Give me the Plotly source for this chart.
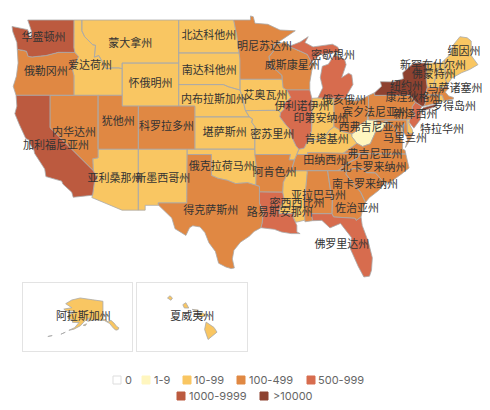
import plotly.graph_objects as go

level_labels = ["0", "1-9", "10-99", "100-499", "500-999", "1000-9999", ">10000"]
level_colors = ["#ffffff", "#fff6bf", "#f9c662", "#e08843", "#d76c4e", "#bc5a3f", "#8e4230"]

state_codes = ["WA", "OR", "CA", "NV", "ID", "MT", "WY", "UT", "AZ", "CO", "NM", "ND", "SD", "NE", "KS", "OK", "TX",
               "MN", "IA", "MO", "AR", "LA", "WI", "IL", "MI", "IN", "OH", "KY", "TN", "MS", "AL", "GA", "FL", "SC",
               "NC", "VA", "WV", "PA", "NY", "NJ", "DE", "MD", "CT", "RI", "MA", "VT", "NH", "ME", "AK", "HI"]
state_labels = ["华盛顿州", "俄勒冈州", "加利福尼亚州", "内华达州", "爱达荷州", "蒙大拿州", "怀俄明州", "犹他州", "亚利桑那州",
                "科罗拉多州", "新墨西哥州", "北达科他州", "南达科他州", "内布拉斯加州", "堪萨斯州", "俄克拉荷马州", "得克萨斯州",
                "明尼苏达州", "艾奥瓦州", "密苏里州", "阿肯色州", "路易斯安那州", "威斯康星州", "伊利诺伊州", "密歇根州", "印第安纳州",
                "俄亥俄州", "肯塔基州", "田纳西州", "密西西比州", "亚拉巴马州", "佐治亚州", "佛罗里达州", "南卡罗来纳州",
                "北卡罗来纳州", "弗吉尼亚州", "西弗吉尼亚州", "宾夕法尼亚州", "纽约州", "新泽西州", "特拉华州", "马里兰州",
                "康涅狄格州", "罗得岛州", "马萨诸塞州", "佛蒙特州", "新罕布什尔州", "缅因州", "阿拉斯加州", "夏威夷州"]
state_levels = [5, 3, 5, 3, 2, 2, 2, 3, 2, 3, 2, 2, 2, 2, 2, 2, 3,
                3, 2, 2, 3, 4, 3, 4, 4, 2, 3, 2, 3, 2, 3, 3, 4, 3,
                3, 3, 1, 3, 6, 4, 2, 3, 3, 2, 3, 2, 2, 2, 2, 2]

# state outlines, lon/lat, one list per landmass
state_outlines = {
    "WA": [[(-124.7,48.4),(-123.2,48.15),(-122.75,48.1),(-122.5,47.3),(-122.3,47.4),(-122.3,48.0),(-122.5,48.4),(-122.75,49),(-117.03,49),(-117.04,46.42),(-116.92,45.99),(-118.98,46),(-119.3,45.93),(-120.5,45.7),(-121.2,45.65),(-122.2,45.57),(-122.7,45.62),(-122.9,46.1),(-123.4,46.2),(-124.05,46.27),(-124.1,46.9),(-124.6,47.9)]],
    "OR": [[(-124.05,46.27),(-123.4,46.2),(-122.9,46.1),(-122.7,45.62),(-122.2,45.57),(-121.2,45.65),(-120.5,45.7),(-119.3,45.93),(-118.98,46),(-116.92,45.99),(-116.46,45.6),(-116.85,44.95),(-117.22,44.4),(-117.03,43.83),(-117.03,42),(-124.2,42),(-124.55,42.84),(-124.15,43.8),(-123.95,45)]],
    "CA": [[(-124.2,42),(-120,42),(-120,39),(-114.63,35),(-114.13,34.3),(-114.5,33.9),(-114.72,32.72),(-117.12,32.53),(-117.3,33),(-118.4,33.75),(-118.55,34.03),(-119.2,34.15),(-120.5,34.45),(-120.65,35.15),(-121.9,36.6),(-122,36.95),(-122.5,37.5),(-122.5,37.8),(-123,38),(-123.8,39.3),(-124.35,40.3),(-124.1,41)]],
    "NV": [[(-120,42),(-114.04,42),(-114.04,36.2),(-114.7,36.1),(-114.63,35),(-120,39)]],
    "ID": [[(-117.03,49),(-116.05,49),(-116.05,48),(-115.7,47.45),(-114.7,46.7),(-114.35,46.65),(-114.5,45.55),(-113.95,45.7),(-113.45,45.05),(-113,44.45),(-112.3,44.55),(-111.5,44.55),(-111.05,44.48),(-111.05,42),(-117.03,42),(-117.03,43.83),(-117.22,44.4),(-116.85,44.95),(-116.46,45.6),(-116.92,45.99),(-117.04,46.42)]],
    "MT": [[(-116.05,49),(-104.05,49),(-104.05,45),(-111.05,45),(-111.05,44.48),(-111.5,44.55),(-112.3,44.55),(-113,44.45),(-113.45,45.05),(-113.95,45.7),(-114.5,45.55),(-114.35,46.65),(-114.7,46.7),(-115.7,47.45),(-116.05,48)]],
    "WY": [[(-111.05,45),(-104.05,45),(-104.05,41),(-111.05,41)]],
    "UT": [[(-114.04,42),(-111.05,42),(-111.05,41),(-109.05,41),(-109.05,37),(-114.04,37)]],
    "AZ": [[(-114.04,37),(-109.05,37),(-109.05,31.33),(-111.07,31.33),(-114.81,32.5),(-114.72,32.72),(-114.5,33.9),(-114.13,34.3),(-114.63,35),(-114.7,36.1),(-114.04,36.2)]],
    "CO": [[(-109.05,41),(-102.05,41),(-102.05,37),(-109.05,37)]],
    "NM": [[(-109.05,37),(-103,37),(-103.04,32),(-106.6,32),(-106.53,31.78),(-108.2,31.78),(-108.2,31.33),(-109.05,31.33)]],
    "ND": [[(-104.05,49),(-97.23,49),(-96.85,47.6),(-96.56,45.94),(-104.05,45.94)]],
    "SD": [[(-104.05,45.94),(-96.56,45.94),(-96.45,45.3),(-96.45,43.5),(-96.45,42.49),(-97.9,42.8),(-98.5,43),(-104.05,43)]],
    "NE": [[(-104.05,43),(-98.5,43),(-97.9,42.8),(-96.45,42.49),(-96.1,41.7),(-95.85,40.7),(-95.31,40),(-102.05,40),(-102.05,41),(-104.05,41)]],
    "KS": [[(-102.05,40),(-95.31,40),(-94.9,39.8),(-95,39.5),(-94.61,39.1),(-94.62,37),(-102.05,37)]],
    "OK": [[(-103,37),(-94.62,37),(-94.43,35.4),(-94.48,33.64),(-95.5,33.88),(-97,33.8),(-98,34.1),(-99.2,34.3),(-100,34.56),(-100,36.5),(-103,36.5)]],
    "TX": [[(-103,36.5),(-100,36.5),(-100,34.56),(-99.2,34.3),(-98,34.1),(-97,33.8),(-95.5,33.88),(-94.48,33.64),(-94.04,33.55),(-94.04,33.02),(-94.04,31.99),(-93.55,31.2),(-93.7,30.1),(-93.85,29.7),(-94.7,29.35),(-95.3,28.9),(-96.4,28.35),(-97.2,27.6),(-97.4,26.8),(-97.15,25.96),(-97.55,25.9),(-98.2,26.05),(-99.1,26.4),(-99.5,27.5),(-100.3,28.3),(-100.8,29.25),(-101.4,29.77),(-102.3,29.88),(-102.7,29.7),(-103.15,28.98),(-104.5,29.6),(-104.9,30.6),(-106.53,31.78),(-106.6,32),(-103.04,32)]],
    "MN": [[(-97.23,49),(-95.15,49),(-95.15,49.38),(-94.8,49.3),(-94.6,48.7),(-93,48.6),(-91.5,48.07),(-89.6,48),(-91.2,47.2),(-92.1,46.75),(-92.3,46.66),(-92.3,46.1),(-92.85,45.6),(-92.75,45),(-92.75,44.75),(-91.9,44.3),(-91.25,43.85),(-91.22,43.5),(-96.45,43.5),(-96.45,45.3),(-96.56,45.94),(-96.85,47.6)]],
    "IA": [[(-96.45,43.5),(-91.22,43.5),(-91.1,42.7),(-90.65,42.5),(-90.15,41.8),(-91.05,41.2),(-91,40.7),(-91.42,40.38),(-91.73,40.61),(-95.77,40.58),(-96.1,41.7),(-96.45,42.49)]],
    "MO": [[(-95.77,40.58),(-91.73,40.61),(-91.42,40.38),(-91.5,40),(-90.75,39.25),(-90.2,38.8),(-90.2,38.4),(-89.5,37.3),(-89.15,37),(-89.4,36.5),(-89.7,36),(-90.37,36),(-90.2,36.5),(-94.62,36.5),(-94.62,37),(-94.61,39.1),(-95,39.5),(-94.9,39.8),(-95.31,40)]],
    "AR": [[(-94.62,36.5),(-90.2,36.5),(-90.37,36),(-89.7,36),(-90.1,35),(-90.6,34.7),(-91.1,33.9),(-91.17,33),(-94.04,33.02),(-94.04,33.55),(-94.48,33.64),(-94.43,35.4)]],
    "LA": [[(-94.04,33.02),(-91.17,33),(-91,32.4),(-91.6,31.3),(-91.6,31),(-89.75,31),(-89.85,30.65),(-89.55,30.2),(-89.4,29.9),(-89.4,29.3),(-89,29.15),(-90.1,29.15),(-91.3,29.3),(-92.2,29.55),(-93.85,29.7),(-93.7,30.1),(-93.55,31.2),(-94.04,31.99)]],
    "WI": [[(-92.1,46.75),(-90.8,46.95),(-90.4,46.55),(-89.1,46.15),(-88.1,45.8),(-87.6,45.1),(-87.9,44.6),(-87.1,45.25),(-87.55,44.3),(-87.8,43.2),(-87.8,42.5),(-90.65,42.5),(-91.1,42.7),(-91.22,43.5),(-91.25,43.85),(-91.9,44.3),(-92.75,44.75),(-92.75,45),(-92.85,45.6),(-92.3,46.1),(-92.3,46.66)]],
    "IL": [[(-90.65,42.5),(-87.8,42.5),(-87.55,41.72),(-87.53,39.3),(-87.6,38.7),(-88.05,37.8),(-88.5,37.1),(-89.15,37),(-89.5,37.3),(-90.2,38.4),(-90.2,38.8),(-90.75,39.25),(-91.5,40),(-91.42,40.38),(-91,40.7),(-91.05,41.2),(-90.15,41.8)]],
    "MI": [[(-86.8,41.76),(-84.8,41.76),(-83.45,41.73),(-83.15,42.1),(-82.45,43),(-82.6,43.9),(-83,44.05),(-83.85,43.65),(-83.3,44.85),(-83.5,45.35),(-84.75,45.78),(-85.5,44.9),(-86.25,44.7),(-86.5,43.65),(-86.2,42.7)],
           [(-90.4,46.55),(-89,46.95),(-88,47.45),(-88.4,46.9),(-87.4,46.5),(-85,46.75),(-84.35,46.5),(-84,46),(-84.75,45.95),(-86.5,45.8),(-87.6,45.1),(-88.1,45.8),(-89.1,46.15)]],
    "IN": [[(-87.55,41.72),(-86.8,41.76),(-84.8,41.76),(-84.8,39.1),(-85.4,38.73),(-86,38),(-87,37.9),(-88.05,37.8),(-87.6,38.7),(-87.53,39.3)]],
    "OH": [[(-84.8,41.76),(-83.45,41.73),(-82.7,41.5),(-81.7,41.5),(-80.52,41.98),(-80.52,40.64),(-80.7,39.7),(-81.7,39.2),(-82.2,38.6),(-82.6,38.42),(-83.7,38.63),(-84.8,39.1)]],
    "KY": [[(-89.4,36.5),(-88.05,36.5),(-88.07,36.68),(-83.68,36.6),(-81.97,37.54),(-82.6,38.17),(-82.6,38.42),(-83.7,38.63),(-84.8,39.1),(-85.4,38.73),(-86,38),(-87,37.9),(-88.05,37.8),(-88.5,37.1),(-89.15,37)]],
    "TN": [[(-89.4,36.5),(-88.05,36.5),(-88.07,36.68),(-83.68,36.6),(-81.68,36.59),(-81.7,36.4),(-82,36.1),(-83,35.75),(-84.3,35),(-85.6,35),(-88.2,35),(-90.1,35),(-89.7,36)]],
    "MS": [[(-90.1,35),(-88.2,35),(-88.1,34.9),(-88.47,31.9),(-88.4,30.4),(-89.55,30.2),(-89.85,30.65),(-89.75,31),(-91.6,31),(-91.6,31.3),(-91,32.4),(-91.17,33),(-91.1,33.9),(-90.6,34.7)]],
    "AL": [[(-88.2,35),(-85.6,35),(-85.18,32.87),(-85,32.3),(-85.05,31),(-87.6,31),(-87.45,30.35),(-88.4,30.25),(-88.47,31.9),(-88.1,34.9)]],
    "GA": [[(-85.6,35),(-84.3,35),(-83.1,35),(-83.35,34.7),(-82.2,33.6),(-81.5,33),(-80.9,32.05),(-81.2,31.6),(-81.45,30.7),(-82.05,30.37),(-82.2,30.57),(-84.86,30.7),(-85.05,31),(-85,32.3),(-85.18,32.87)]],
    "FL": [[(-87.6,31),(-85.05,31),(-84.86,30.7),(-82.2,30.57),(-82.05,30.37),(-81.45,30.7),(-81.3,29.9),(-80.55,28.4),(-80.05,26.9),(-80.15,25.75),(-80.4,25.2),(-81.1,25.12),(-81.8,26.1),(-82.75,27.7),(-82.65,28.8),(-83.4,29.5),(-84,30.1),(-85.3,29.68),(-86.3,30.38),(-87.45,30.35)]],
    "SC": [[(-83.1,35),(-82.4,35.2),(-81,35.15),(-80.8,34.82),(-79.68,34.8),(-78.55,33.86),(-79.2,33.2),(-80.4,32.5),(-80.9,32.05),(-81.5,33),(-82.2,33.6),(-83.35,34.7)]],
    "NC": [[(-84.3,35),(-83,35.75),(-82,36.1),(-81.7,36.4),(-81.68,36.59),(-75.9,36.55),(-75.5,35.25),(-76.5,34.65),(-77.9,33.9),(-78.55,33.86),(-79.68,34.8),(-80.8,34.82),(-81,35.15),(-82.4,35.2),(-83.1,35)]],
    "VA": [[(-83.68,36.6),(-81.68,36.59),(-75.9,36.55),(-76,36.9),(-76.3,37),(-76.3,37.9),(-77,38.3),(-77.05,38.85),(-77.72,39.32),(-78.35,39.4),(-78.87,38.76),(-79.65,38.6),(-80.3,37.5),(-81.25,37.25),(-81.97,37.54)],
           [(-75.95,37.15),(-75.25,38.03),(-75.65,37.95)]],
    "WV": [[(-80.52,40.64),(-80.52,39.72),(-79.48,39.72),(-79.48,39.2),(-78.35,39.63),(-77.72,39.32),(-78.35,39.4),(-78.87,38.76),(-79.65,38.6),(-80.3,37.5),(-81.25,37.25),(-81.97,37.54),(-82.6,38.17),(-82.6,38.42),(-82.2,38.6),(-81.7,39.2),(-80.7,39.7)]],
    "PA": [[(-80.52,41.98),(-79.76,42.25),(-79.76,42),(-75.35,42),(-74.7,41.36),(-75.1,40.95),(-75.1,40.6),(-74.75,40.2),(-75.4,39.8),(-75.79,39.72),(-80.52,39.72)]],
    "NY": [[(-79.76,42.25),(-78.9,42.85),(-79.05,43.27),(-77.5,43.25),(-76.2,43.55),(-76.3,44.1),(-75,44.95),(-74.7,45),(-73.35,45),(-73.4,43.6),(-73.25,42.75),(-73.5,42.05),(-73.5,41.3),(-73.65,41),(-73.9,40.98),(-74.7,41.36),(-75.35,42),(-79.76,42)],
           [(-74.05,40.6),(-73.75,40.85),(-72.3,41.15),(-71.9,41.05),(-73.6,40.58)]],
    "NJ": [[(-74.7,41.36),(-73.9,40.98),(-74.25,40.47),(-74,40.45),(-74.1,39.75),(-74.9,38.95),(-75.5,39.5),(-75.4,39.8),(-74.75,40.2),(-75.1,40.6),(-75.1,40.95)]],
    "DE": [[(-75.79,39.72),(-75.4,39.8),(-75.55,39.45),(-75.1,38.8),(-75.05,38.45),(-75.7,38.45)]],
    "MD": [[(-79.48,39.72),(-75.79,39.72),(-75.7,38.45),(-75.05,38.45),(-75.25,38.03),(-75.65,37.95),(-76.2,38.6),(-76.1,39.4),(-76.5,39.1),(-76.4,38.3),(-77,38.3),(-77.05,38.85),(-77.72,39.32),(-78.35,39.63),(-79.48,39.2)]],
    "CT": [[(-73.5,42.05),(-71.8,42.02),(-71.85,41.32),(-73.65,41),(-73.5,41.3)]],
    "RI": [[(-71.8,42.02),(-71.4,42.02),(-71.15,41.5),(-71.85,41.32)]],
    "MA": [[(-73.5,42.05),(-73.25,42.75),(-71.3,42.7),(-70.8,42.85),(-70.6,42.65),(-71,42.3),(-70.6,41.95),(-70,41.8),(-70,41.65),(-70.65,41.55),(-71.15,41.5),(-71.4,42.02),(-71.8,42.02)]],
    "VT": [[(-73.35,45),(-71.5,45),(-72.05,44.1),(-72.45,43),(-72.45,42.73),(-73.25,42.75),(-73.4,43.6)]],
    "NH": [[(-71.5,45),(-71.1,45.3),(-70.97,43.4),(-70.7,43.07),(-70.8,42.85),(-71.3,42.7),(-72.45,42.73),(-72.45,43),(-72.05,44.1)]],
    "ME": [[(-71.1,45.3),(-70.4,45.8),(-70,46.7),(-69.2,47.45),(-68.3,47.35),(-67.8,47.05),(-67.8,45.7),(-67.4,45.3),(-66.97,44.85),(-68,44.4),(-69,44.1),(-70.2,43.6),(-70.7,43.07),(-70.97,43.4)]],
    "AK": [[(-141,69.65),(-141,60.3),(-139,60),(-137.5,58.9),(-135.5,59.8),(-133.4,58.4),(-131.5,56.6),(-130,55.9),(-130.5,55),(-132,54.7),(-133.5,55.5),(-135,57),(-136.5,58.2),(-140,59.7),(-144,60),(-148,60),(-151.5,59.2),(-150,61.2),(-153.5,59.5),(-156.5,57),(-161,55.2),(-164.5,54.6),(-160.5,56),(-157.5,58.7),(-162,58.7),(-162,60),(-165.2,60.8),(-164.5,63),(-161,63.6),(-161,64.6),(-166.5,64.6),(-168,65.6),(-162.5,66.3),(-166.7,68.4),(-162.5,70.3),(-156.7,71.35),(-148,70.4)],
           [(-154.6,57.2),(-152.3,58),(-153.2,57)],
           [(-170,52.6),(-167,53.6),(-168,53.2)],
           [(-179,51.4),(-176,51.9),(-177.5,51.7)]],
    "HI": [[(-155.9,20.25),(-155.1,19.85),(-154.8,19.5),(-155.7,18.95),(-156.05,19.7)],
           [(-156.7,20.9),(-156.25,20.95),(-156,20.75),(-156.4,20.6)],
           [(-158.25,21.55),(-157.95,21.7),(-157.65,21.3),(-158.1,21.3)],
           [(-159.8,22.05),(-159.55,22.22),(-159.3,22.05),(-159.45,21.88)],
           [(-157.3,21.2),(-156.7,21.15),(-156.9,21.05)]],
}

# labels that the source chart moved away from the middle of the state
label_anchors = {
    "ID": (-115.03, 44.72), "MI": (-84.92, 45.65), "IL": (-88.76, 40.91), "OH": (-83.56, 41.47),
    "PA": (-79.72, 40.36), "VA": (-79.72, 36.45), "MD": (-76.0, 37.94), "DE": (-71.42, 38.78),
    "RI": (-69.93, 40.91), "CT": (-75.01, 41.75), "MA": (-69.81, 42.59), "NH": (-72.53, 44.72),
    "ME": (-68.69, 46.03), "MS": (-89.38, 31.9), "GA": (-81.95, 31.43),
}

W, H = 490, 410
LABEL_FONT = "Noto Sans CJK SC"
LEGEND_FONT = "Inter"


def outline_xy(codes):
    xs, ys = [], []
    for code in codes:
        for poly in state_outlines[code]:
            xs += [p[0] for p in poly] + [poly[0][0], None]
            ys += [p[1] for p in poly] + [poly[0][1], None]
    return xs, ys


def label_pos(code):
    if code in label_anchors:
        return label_anchors[code]
    pts = [p for poly in state_outlines[code] for p in poly]
    lons = [p[0] for p in pts]
    lats = [p[1] for p in pts]
    return (min(lons) + max(lons)) / 2, (min(lats) + max(lats)) / 2


def add_map(fig, codes, xa, ya):
    for lv, color in enumerate(level_colors):
        group = [c for c in codes if state_levels[state_codes.index(c)] == lv]
        if not group:
            continue
        xs, ys = outline_xy(group)
        fig.add_trace(go.Scatter(x=xs, y=ys, mode="lines", fill="toself", fillcolor=color,
                                 line=dict(color="#a9a9a9", width=0.8), name=level_labels[lv],
                                 hoverinfo="name", showlegend=False, xaxis=xa, yaxis=ya))
    pos = [label_pos(c) for c in codes]
    fig.add_trace(go.Scatter(x=[p[0] for p in pos], y=[p[1] for p in pos], mode="text",
                             text=[state_labels[state_codes.index(c)] for c in codes],
                             textposition="middle center", cliponaxis=False,
                             textfont=dict(family=LABEL_FONT, size=11, color="#333333"),
                             hoverinfo="skip", showlegend=False, xaxis=xa, yaxis=ya))


def inset_axis(lo, hi, domain, anchor):
    return dict(range=[lo, hi], domain=domain, anchor=anchor, showgrid=False, zeroline=False, showticklabels=False,
                ticks="", showline=True, mirror=True, linecolor="#e3e3e3", linewidth=1)


fig = go.Figure()
mainland = [c for c in state_codes if c not in ("AK", "HI")]
add_map(fig, mainland, "x", "y")
add_map(fig, ["AK"], "x2", "y2")
add_map(fig, ["HI"], "x3", "y3")

# legend swatches and labels, pixel positions
legend_rows = [380, 396]
legend_x = [(113, 124, 0), (142, 153, 0), (183, 193, 0), (237, 248, 0), (307, 317, 0), (177, 188, 1), (260, 272, 1)]
shapes, annotations = [], []
for i, (sx, tx, row) in enumerate(legend_x):
    cy = legend_rows[row]
    shapes.append(dict(type="rect", xref="paper", yref="paper",
                       x0=sx / W, x1=(sx + 8) / W, y0=1 - (cy + 4) / H, y1=1 - (cy - 4) / H,
                       fillcolor=level_colors[i], line=dict(color="#dddddd" if i == 0 else level_colors[i], width=1)))
    annotations.append(dict(xref="paper", yref="paper", x=tx / W, y=1 - cy / H, text=level_labels[i], showarrow=False,
                            xanchor="left", yanchor="middle", xshift=-1,
                            font=dict(family=LEGEND_FONT, size=11, color="#666666")))

fig.update_layout(
    width=W, height=H,
    margin=dict(l=0, r=0, t=0, b=0, pad=0),
    paper_bgcolor="white", plot_bgcolor="white",
    xaxis=dict(range=[-126.19, -65.47], domain=[0, 1], visible=False),
    yaxis=dict(range=[12.76, 50.86], domain=[0, 1], visible=False),
    xaxis2=inset_axis(-196.5, -121.3, [22.5 / W, 131.5 / W], "y2"),
    yaxis2=inset_axis(43.9, 79.1, [1 - 351 / H, 1 - 283 / H], "x2"),
    xaxis3=inset_axis(-162.88, -151.77, [137 / W, 247 / W], "y3"),
    yaxis3=inset_axis(18.09, 23.17, [1 - 351 / H, 1 - 283 / H], "x3"),
    shapes=shapes, annotations=annotations,
    showlegend=False,
)

fig.write_html("out.html", config=dict(displayModeBar=False),
               post_script="document.body.style.margin = '0';")
